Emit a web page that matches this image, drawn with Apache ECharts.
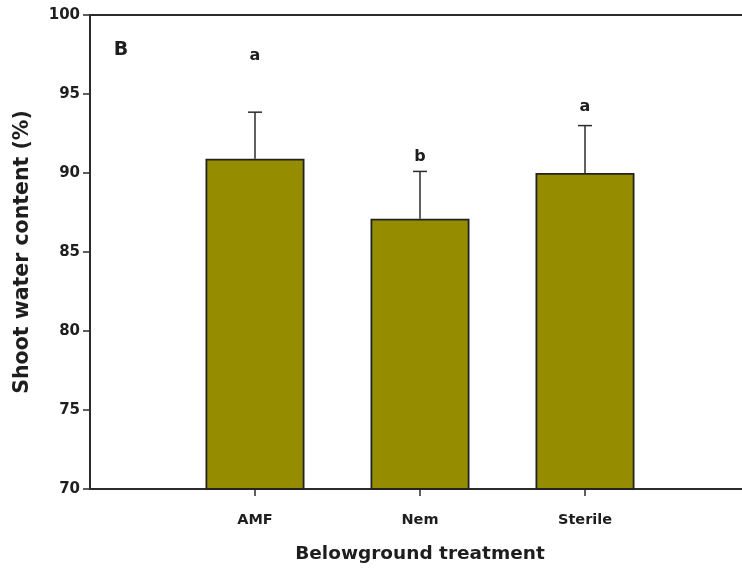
<!DOCTYPE html>
<html>
<head>
<meta charset="utf-8">
<script src="https://cdn.jsdelivr.net/npm/echarts@6/dist/echarts.min.js"></script>
<style>
  html, body { margin: 0; padding: 0; background: #fff; }
  #chart { width: 742px; height: 574px; }
</style>
</head>
<body>
<div id="chart"></div>
<script>
// Shoot water content by belowground treatment (panel B)
const categories = ['AMF', 'Nem', 'Sterile'];
const means = [90.9, 87.1, 90.0];
const errors = [2.95, 3.0, 3.0];
const letters = ['a', 'b', 'a'];
const letterHeights = [97.4, 91.05, 94.2];
const yTicks = { min: 70, max: 100, step: 5 };

// padding slots on each side so the treatments sit inside the frame
const axisCats = [''].concat(categories, ['']);
const pad = v => ['-'].concat(v, ['-']);

const FONT = '"DejaVu Sans", Verdana, sans-serif';
const INK = '#2b2b2b';
const TEXT = '#1e1e1e';

const chart = echarts.init(document.getElementById('chart'), null, { renderer: 'canvas' });

chart.setOption({
  animation: false,
  backgroundColor: '#fff',
  grid: {
    left: 90, top: 15, width: 660, height: 474,
    outerBoundsMode: 'none',
    containLabel: false,
    show: true, borderColor: INK, borderWidth: 2, backgroundColor: 'transparent'
  },
  graphic: [{
    type: 'text',
    style: { x: 121, y: 50, text: 'B', font: 'bold 19px ' + FONT, fill: TEXT,
             align: 'center', verticalAlign: 'middle' }
  }],
  xAxis: {
    type: 'category',
    data: axisCats,
    boundaryGap: false,
    name: 'Belowground treatment',
    nameLocation: 'middle',
    nameGap: 56,
    nameTextStyle: { fontFamily: FONT, fontWeight: 'bold', fontSize: 18.5, color: TEXT },
    axisLine: { lineStyle: { color: INK, width: 2 } },
    axisTick: { length: 7, lineStyle: { color: INK, width: 1.5 }, interval: (i, v) => v !== '' },
    axisLabel: { margin: 24, fontFamily: FONT, fontWeight: 'bold', fontSize: 14.5, color: TEXT,
                 interval: (i, v) => v !== '' },
    splitLine: { show: false }
  },
  yAxis: {
    type: 'value',
    min: yTicks.min, max: yTicks.max, interval: yTicks.step,
    name: 'Shoot water content (%)',
    nameLocation: 'middle',
    nameGap: 57,
    nameTextStyle: { fontFamily: FONT, fontWeight: 'bold', fontSize: 20.5, color: TEXT },
    axisLine: { show: true, lineStyle: { color: INK, width: 2 } },
    axisTick: { show: true, length: 7, lineStyle: { color: INK, width: 1.5 } },
    axisLabel: { margin: 10, fontFamily: FONT, fontWeight: 'bold', fontSize: 15, color: TEXT },
    splitLine: { show: false }
  },
  series: [
    {
      type: 'bar',
      data: pad(means),
      barWidth: 99,
      itemStyle: { color: '#968c00', borderColor: '#222', borderWidth: 1.8 },
      z: 2
    },
    {
      // upper error bars with caps
      type: 'custom',
      data: categories.map((c, i) => [i + 1, means[i], means[i] + errors[i]]),
      renderItem: function (params, api) {
        const base = api.coord([api.value(0), api.value(1)]);
        const top = api.coord([api.value(0), api.value(2)]);
        const half = 7;
        return {
          type: 'group',
          children: [
            { type: 'line', shape: { x1: base[0], y1: base[1], x2: top[0], y2: top[1] },
              style: { stroke: INK, lineWidth: 1.5 } },
            { type: 'line', shape: { x1: top[0] - half, y1: top[1], x2: top[0] + half, y2: top[1] },
              style: { stroke: INK, lineWidth: 1.5 } }
          ]
        };
      },
      z: 3
    },
    {
      // significance letters above the bars
      type: 'custom',
      data: categories.map((c, i) => [i + 1, letterHeights[i], i]),
      renderItem: function (params, api) {
        const p = api.coord([api.value(0), api.value(1)]);
        return {
          type: 'text',
          x: p[0], y: p[1],
          style: {
            text: letters[api.value(2)],
            font: 'bold 16px ' + FONT,
            fill: TEXT, align: 'center', verticalAlign: 'middle'
          }
        };
      },
      z: 4
    }
  ]
});
</script>
</body>
</html>
